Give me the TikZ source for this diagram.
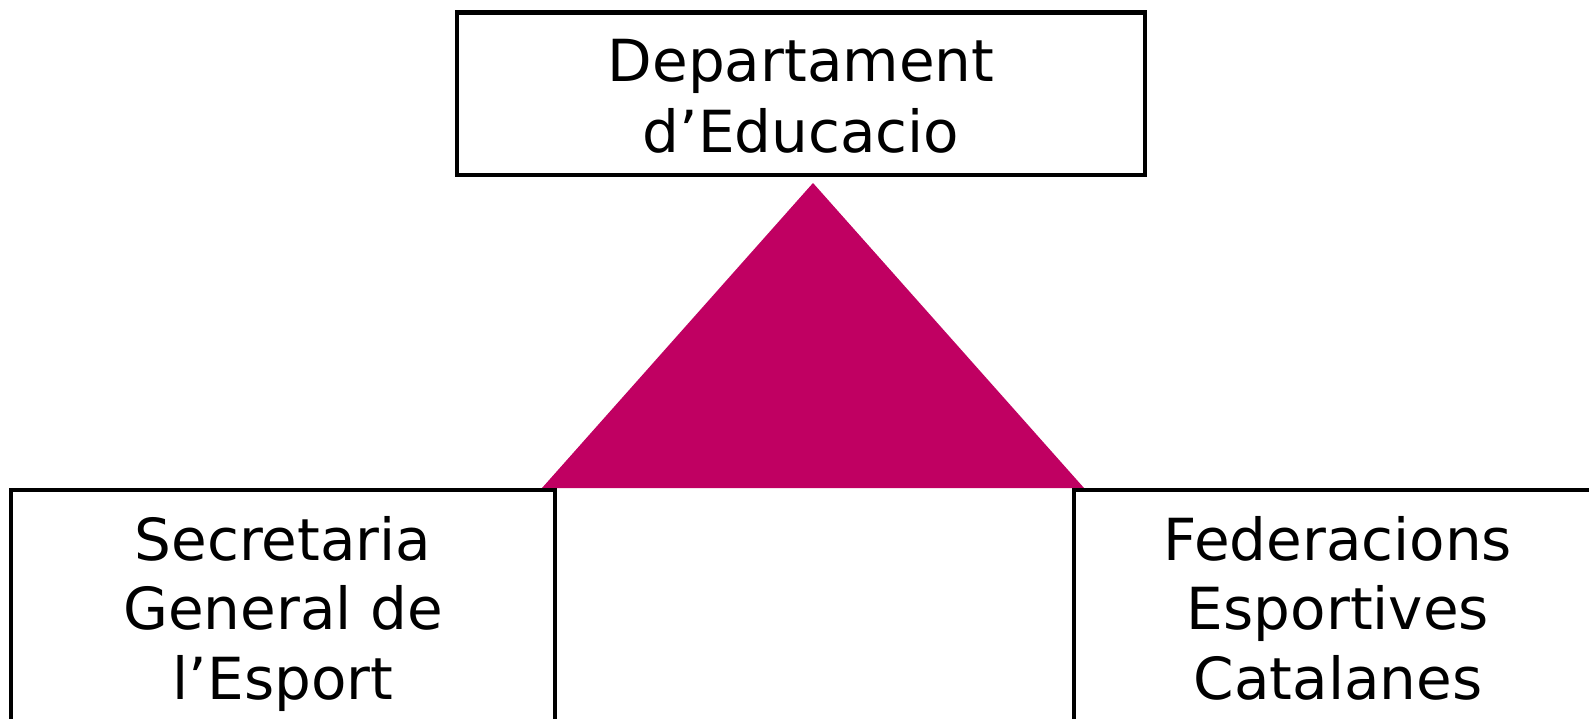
\documentclass[tikz,border=0pt]{standalone}
\usepackage{fontspec}
\setmainfont{DejaVu Sans}
\definecolor{tri}{RGB}{192,0,98}
\tikzset{
  boxline/.style={draw=black, line width=4.5pt},
  lbl/.style={anchor=base, inner sep=0pt, font=\fontsize{58}{70}\selectfont}
}
\begin{document}
\begin{tikzpicture}[x=1pt,y=-1pt]
\useasboundingbox (0,0) rectangle (1589,718);
\fill[white] (0,0) rectangle (1589,718);
% triangle
\coordinate (apex) at (813,183);
\coordinate (bl) at (542,488);
\coordinate (br) at (1084,488);
\fill[tri] (bl) -- (apex) -- (br) -- cycle;
% boxes
\draw[boxline] (457,12.5) rectangle (1145,175);
\draw[boxline] (11,490) rectangle (555,780);
\draw[boxline] (1074,490) rectangle (1660,780);
% texts
\node[lbl] (t1) at (801,81) {Departament};
\node[lbl] (t2) at (801,152) {d’Educacio};
\node[lbl] (l1) at (283,560) {Secretaria};
\node[lbl] (l2) at (283,629) {General de};
\node[lbl] (l3) at (283,699) {l’Esport};
\node[lbl] (r1) at (1338,560) {Federacions};
\node[lbl] (r2) at (1338,629) {Esportives};
\node[lbl] (r3) at (1338,699) {Catalanes};
\end{tikzpicture}
\end{document}
